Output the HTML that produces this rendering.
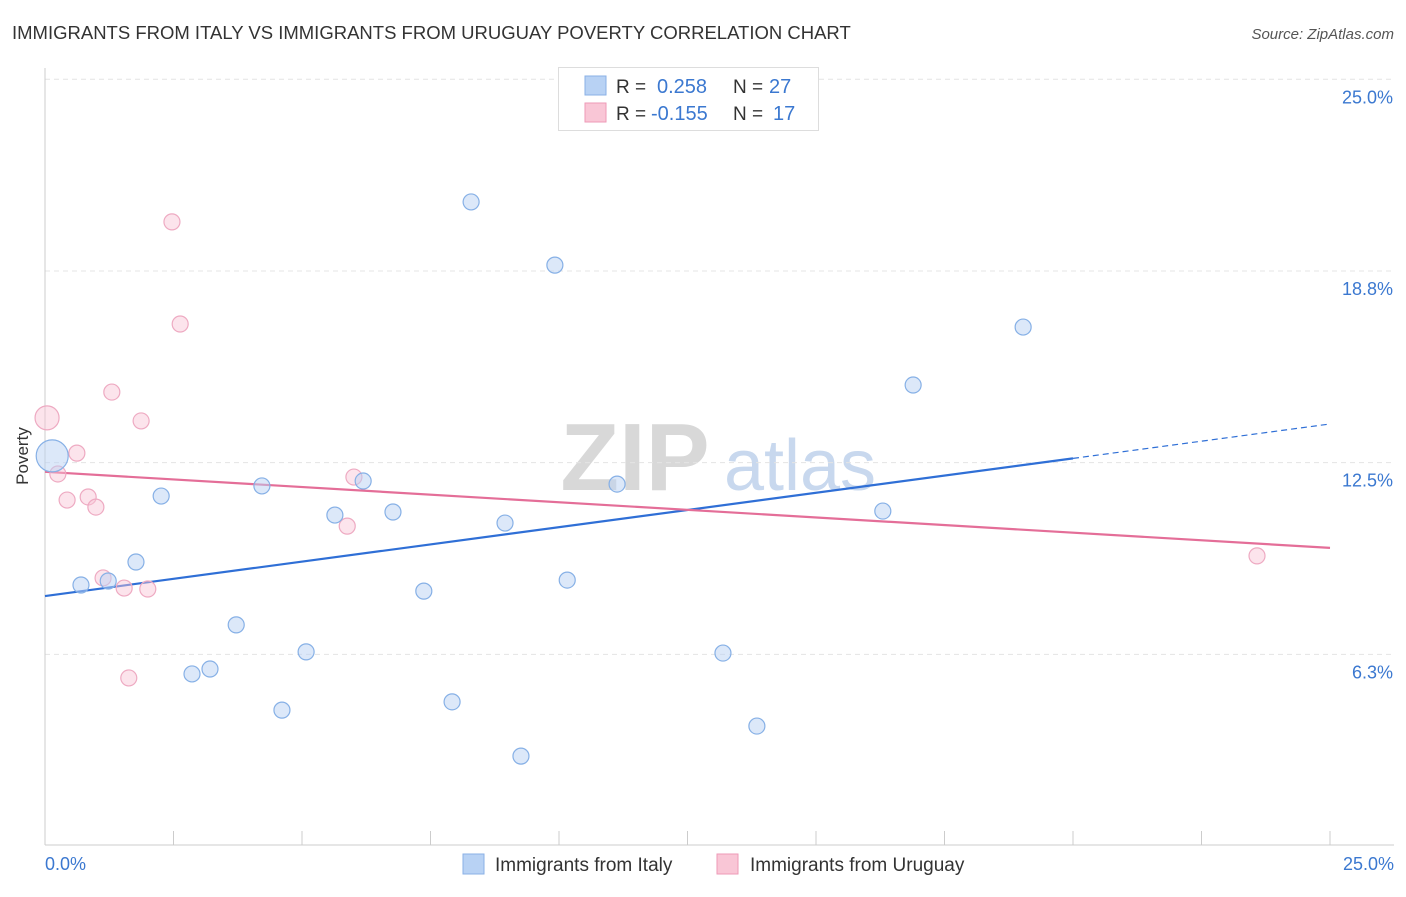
<!DOCTYPE html>
<html><head><meta charset="utf-8"><style>
body{margin:0;background:#fff;font-family:"Liberation Sans",sans-serif;}
svg text{font-family:"Liberation Sans",sans-serif;}
</style></head><body>
<svg id="c" width="1406" height="892">
<text x="12" y="39" font-size="18.5" fill="#333">IMMIGRANTS FROM ITALY VS IMMIGRANTS FROM URUGUAY POVERTY CORRELATION CHART</text>
<text x="1394" y="39" font-size="15" fill="#555" text-anchor="end" font-style="italic">Source: ZipAtlas.com</text>
<g>
<text x="635" y="490" font-size="96" fill="#d8d8d8" font-family="Liberation Serif" text-anchor="middle" font-weight="bold">ZIP</text>
<text x="800" y="490" font-size="72" fill="#c8d8ee" text-anchor="middle">atlas</text>
</g>
<g id="grid"></g>
<g id="axes"></g>
<g id="lines"></g>
<g id="pts"></g>
<text x="28" y="456" font-size="17" fill="#333" text-anchor="middle" transform="rotate(-90 28 456)">Poverty</text>
<text x="45" y="870" font-size="18" fill="#3b78d0">0.0%</text>
<text x="1394" y="870" font-size="18" fill="#3b78d0" text-anchor="end">25.0%</text>
<g>
<rect x="558.5" y="67.5" width="260" height="63" fill="#fff" stroke="#ddd"/>
<rect x="585" y="76" width="21" height="19" fill="#b8d2f4" stroke="#8ab0e6"/>
<rect x="585" y="103" width="21" height="19" fill="#f9c6d6" stroke="#ee9ab7"/>
<text x="616" y="93" font-size="19" fill="#333">R = </text><text x="657" y="93" font-size="20" fill="#3b78d0">0.258</text>
<text x="733" y="93" font-size="19" fill="#333">N = </text><text x="769" y="93" font-size="20" fill="#3b78d0">27</text>
<text x="616" y="120" font-size="19" fill="#333">R = </text><text x="651" y="120" font-size="20" fill="#3b78d0">-0.155</text>
<text x="733" y="120" font-size="19" fill="#333">N = </text><text x="773" y="120" font-size="20" fill="#3b78d0">17</text>
</g>
<g>
<rect x="463" y="854" width="21" height="20" fill="#b8d2f4" stroke="#8ab0e6"/>
<text x="495" y="871" font-size="19" fill="#333">Immigrants from Italy</text>
<rect x="717" y="854" width="21" height="20" fill="#f9c6d6" stroke="#ee9ab7"/>
<text x="750" y="871" font-size="19" fill="#333">Immigrants from Uruguay</text>
</g>
</svg>
<script>
const yTicks=[25.0,18.8,12.5,6.3];
const yTickVals=[25,18.75,12.5,6.25];
const italyX=[0.70,1.23,1.77,2.26,2.86,3.21,3.72,4.22,4.61,5.08,5.64,6.19,6.77,7.37,7.92,8.29,8.95,9.26,9.92,10.16,11.13,13.19,13.85,16.30,16.89,19.03,0.14];
const italyY=[8.51,8.64,9.26,11.41,5.61,5.77,7.21,11.74,4.43,6.33,10.79,11.90,10.89,8.31,4.70,21.00,10.53,2.93,18.94,8.67,11.80,6.29,3.91,10.92,15.03,16.92,12.72];
const italyBig=[0,0,0,0,0,0,0,0,0,0,0,0,0,0,0,0,0,0,0,0,0,0,0,0,0,0,1];
const uruX=[0.04,0.25,0.43,0.62,0.84,0.99,1.13,1.30,1.54,1.63,1.87,2.00,2.47,2.63,5.88,6.01,23.58];
const uruY=[13.96,12.13,11.28,12.81,11.38,11.05,8.74,14.80,8.41,5.48,13.86,8.38,20.35,17.02,10.43,12.03,9.46];
const uruBig=[1,0,0,0,0,0,0,0,0,0,0,0,0,0,0,0,0];
const italyTrend=[8.15,13.76];const italySolidEnd=20;
const uruTrend=[12.2,9.72];
const NS='http://www.w3.org/2000/svg';
const X=v=>45+v*51.4, Y=v=>846-v*30.67;
function mk(p,t,a){const e=document.createElementNS(NS,t);for(const k in a)e.setAttribute(k,a[k]);document.getElementById(p).appendChild(e);return e;}
yTickVals.forEach((v,i)=>{
 const g=mk('grid','line',{x1:45,x2:1394,y1:Y(v),y2:Y(v),stroke:'#e4e4e4','stroke-dasharray':'5,4'});
 
 
 const t=mk('grid','text',{x:1393,y:Y(v)+24,'font-size':18,fill:'#3b78d0','text-anchor':'end'});
 t.textContent=yTicks[i].toFixed(1)+'%';
 
 
});
const ax=mk('axes','line',{x1:45,x2:45,y1:68,y2:845,stroke:'#ccc'});


const bx=mk('axes','line',{x1:45,x2:1394,y1:845,y2:845,stroke:'#ccc'});


for(let i=0;i<=10;i++){const t=mk('axes','line',{x1:X(i*2.5),x2:X(i*2.5),y1:831,y2:845,stroke:'#ccc'});
 
 }
function interp(tr,x){return tr[0]+(tr[1]-tr[0])*x/25;}
let l=mk('lines','line',{x1:X(0),y1:Y(italyTrend[0]),x2:X(italySolidEnd),y2:Y(interp(italyTrend,italySolidEnd)),stroke:'#2f6fd6','stroke-width':2.2});


l=mk('lines','line',{x1:X(italySolidEnd),y1:Y(interp(italyTrend,italySolidEnd)),x2:X(25),y2:Y(italyTrend[1]),stroke:'#2f6fd6','stroke-width':1.2,'stroke-dasharray':'6,4'});


l=mk('lines','line',{x1:X(0),y1:Y(uruTrend[0]),x2:X(25),y2:Y(uruTrend[1]),stroke:'#e46e98','stroke-width':2.2});


uruX.forEach((x,i)=>{const c=mk('pts','circle',{cx:X(x),cy:Y(uruY[i]),r:uruBig[i]?12:8,fill:'rgba(248,195,212,0.45)',stroke:'#eeaac2','stroke-width':1.2});
 
 });
italyX.forEach((x,i)=>{const c=mk('pts','circle',{cx:X(x),cy:Y(italyY[i]),r:italyBig[i]?16:8,fill:'rgba(185,210,243,0.5)',stroke:'#86b0e6','stroke-width':1.2});
 
 });
</script>
</body></html>
